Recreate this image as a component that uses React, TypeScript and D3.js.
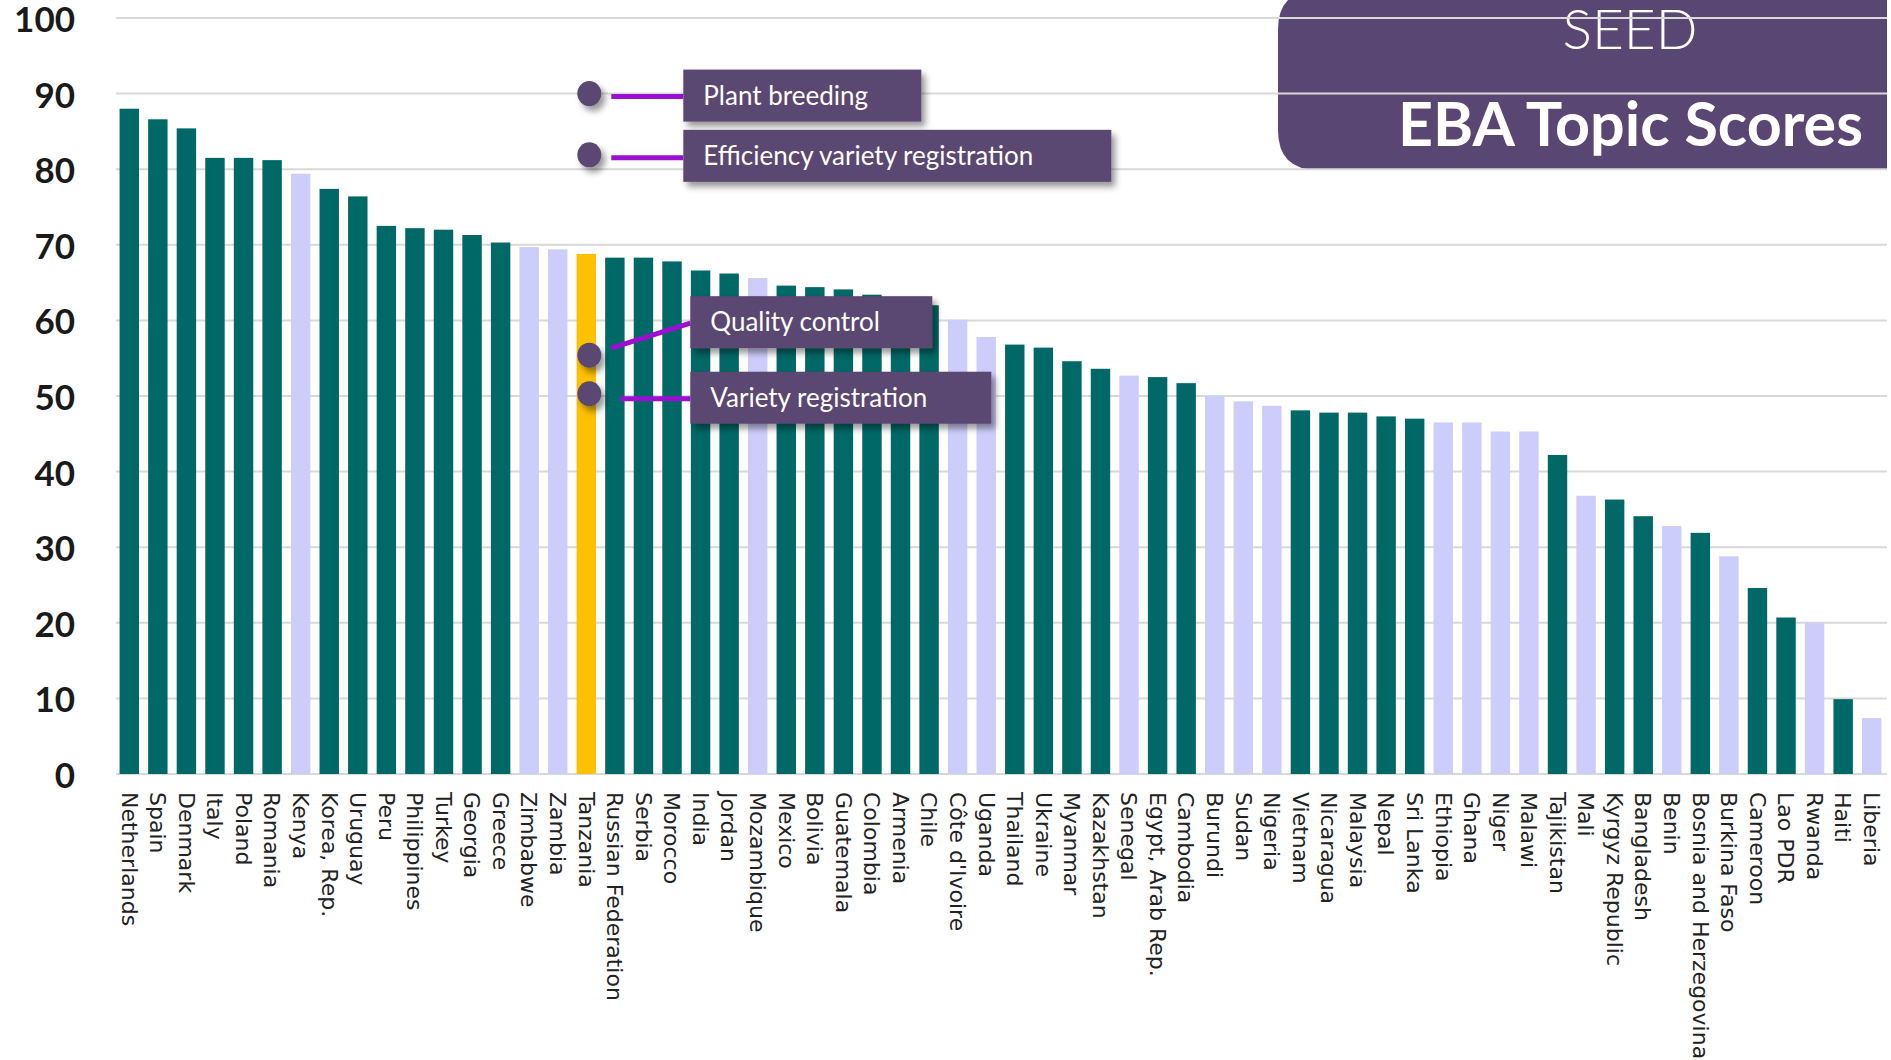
import React from "react";
import * as d3 from "d3";

// EBA seed topic scores by country, sorted high to low
const countries = [
  "Netherlands", "Spain", "Denmark", "Italy", "Poland", "Romania", "Kenya", "Korea, Rep.",
  "Uruguay", "Peru", "Philippines", "Turkey", "Georgia", "Greece", "Zimbabwe", "Zambia",
  "Tanzania", "Russian Federation", "Serbia", "Morocco", "India", "Jordan", "Mozambique",
  "Mexico", "Bolivia", "Guatemala", "Colombia", "Armenia", "Chile", "Côte d'Ivoire",
  "Uganda", "Thailand", "Ukraine", "Myanmar", "Kazakhstan", "Senegal", "Egypt, Arab Rep.",
  "Cambodia", "Burundi", "Sudan", "Nigeria", "Vietnam", "Nicaragua", "Malaysia", "Nepal",
  "Sri Lanka", "Ethiopia", "Ghana", "Niger", "Malawi", "Tajikistan", "Mali",
  "Kyrgyz Republic", "Bangladesh", "Benin", "Bosnia and Herzegovina", "Burkina Faso",
  "Cameroon", "Lao PDR", "Rwanda", "Haiti", "Liberia",
];

const scores = [
  88.0, 86.6, 85.4, 81.5, 81.5, 81.2, 79.4, 77.4,
  76.4, 72.5, 72.2, 72.0, 71.3, 70.3, 69.7, 69.4,
  68.8, 68.3, 68.3, 67.8, 66.6, 66.2, 65.6,
  64.6, 64.4, 64.1, 63.4, 63.0, 62.0, 60.1,
  57.8, 56.8, 56.4, 54.6, 53.6, 52.7, 52.5,
  51.7, 50.0, 49.3, 48.7, 48.1, 47.8, 47.8, 47.3,
  47.0, 46.5, 46.5, 45.3, 45.3, 42.2, 36.8,
  36.3, 34.1, 32.8, 31.9, 28.8,
  24.6, 20.7, 20.0, 9.9, 7.4,
];

// 0 = first group, 1 = second group, 2 = focus country
const groups = [
  0, 0, 0, 0, 0, 0, 1, 0,
  0, 0, 0, 0, 0, 0, 1, 1,
  2, 0, 0, 0, 0, 0, 1,
  0, 0, 0, 0, 0, 0, 1,
  1, 0, 0, 0, 0, 1, 0,
  0, 1, 1, 1, 0, 0, 0, 0,
  0, 1, 1, 1, 1, 0, 1,
  0, 0, 1, 0, 1,
  0, 0, 1, 0, 1,
];

const yTicks = [0, 10, 20, 30, 40, 50, 60, 70, 80, 90, 100];

// Tanzania's scores on the seed sub-topics
const focusCountry = "Tanzania";
const topics = ["Plant breeding", "Efficiency variety registration", "Quality control", "Variety registration"];
const topicScores = [90, 81.9, 55.4, 50.3];

const W = 1891;
const H = 1060;

export default function App() {
  const x = d3.scaleBand<string>()
    .domain(countries)
    .range([115, 1886])
    .paddingInner(0.32)
    .paddingOuter(0.16);
  const y = d3.scaleLinear().domain([0, 100]).range([774, 18]);
  const color = d3.scaleOrdinal<number, string>()
    .domain([0, 1, 2])
    .range(["#006866", "#cdcdfb", "#ffc000"]);

  const fx = (x(focusCountry) as number) + x.bandwidth() / 2;

  // callout boxes: offset of the box from its dot and the box width
  const boxes = [
    { bx: 97, by: -24, w: 238, line: [[25, 3], [97, 3]] },
    { bx: 97, by: -25, w: 428, line: [[25, 3], [97, 3]] },
    { bx: 104, by: -59, w: 242, line: [[25, -7], [104, -32]] },
    { bx: 104, by: -22, w: 301, line: [[34, 5], [104, 5]] },
  ];

  // title panel: rounded on the left, square on the right
  const tl = 1278, tr = 1887, tb = 170, r = 40;
  const titlePath = `M${tr},-10 L${tl + r},-10 Q${tl},-10 ${tl},${r - 10} L${tl},${tb - r} Q${tl},${tb} ${tl + r},${tb} L${tr},${tb} Z`;

  return (
    <svg width={W} height={H} style={{ position: "absolute", left: 0, top: 0, background: "#fff" }}>
      <defs>
        <filter id="shadow" x="-20%" y="-30%" width="150%" height="180%">
          <feDropShadow dx="4" dy="5" stdDeviation="3" floodColor="#000" floodOpacity="0.4" />
        </filter>
      </defs>

      {/* title box */}
      <path d={titlePath} fill="#5a4672" />
      <text x={1630} y={49} textAnchor="middle" fill="#fff"
        style={{ font: "300 55px Lato, sans-serif" }}>SEED</text>
      <text x={1863} y={146} textAnchor="end" fill="#fff"
        style={{ font: "bold 61px Lato, sans-serif" }}>EBA Topic Scores</text>

      {/* grid */}
      {yTicks.map((t) => (
        <g key={t}>
          <line x1={116} x2={1887} y1={y(t)} y2={y(t)} stroke="#d9d9d9" strokeWidth={2} />
          <text x={75} y={y(t) + 14} textAnchor="end" fill="#1a1a1a"
            style={{ font: "bold 35px Lato, sans-serif" }}>
            {t}
          </text>
        </g>
      ))}

      {/* bars */}
      {countries.map((c, i) => (
        <rect key={c} x={x(c)} y={y(scores[i])} width={x.bandwidth()}
          height={y(0) - y(scores[i])} fill={color(groups[i])} />
      ))}

      {/* country labels */}
      {countries.map((c) => {
        const cx = (x(c) as number) + x.bandwidth() / 2;
        return (
          <text key={c} transform={`translate(${cx},792) rotate(90)`} dy="0.35em" fill="#222"
            style={{ font: "22px 'DejaVu Sans', sans-serif" }}>
            {c}
          </text>
        );
      })}

      {/* Tanzania sub-topic callouts */}
      {topics.map((t, i) => {
        const cy = y(topicScores[i]);
        const b = boxes[i];
        return (
          <g key={t}>
            <line x1={fx + b.line[0][0]} y1={cy + b.line[0][1]} x2={fx + b.line[1][0]} y2={cy + b.line[1][1]}
              stroke="#9a0fd0" strokeWidth={5} />
            <ellipse cx={fx + 3} cy={cy} rx={12} ry={12.5} fill="#5a4672" filter="url(#shadow)" />
            <rect x={fx + b.bx} y={cy + b.by} width={b.w} height={52} fill="#5a4672" filter="url(#shadow)" />
            <text x={fx + b.bx + 20} y={cy + b.by + 35} fill="#fff"
              style={{ font: "26px Lato, sans-serif" }}>{t}</text>
          </g>
        );
      })}
    </svg>
  );
}
